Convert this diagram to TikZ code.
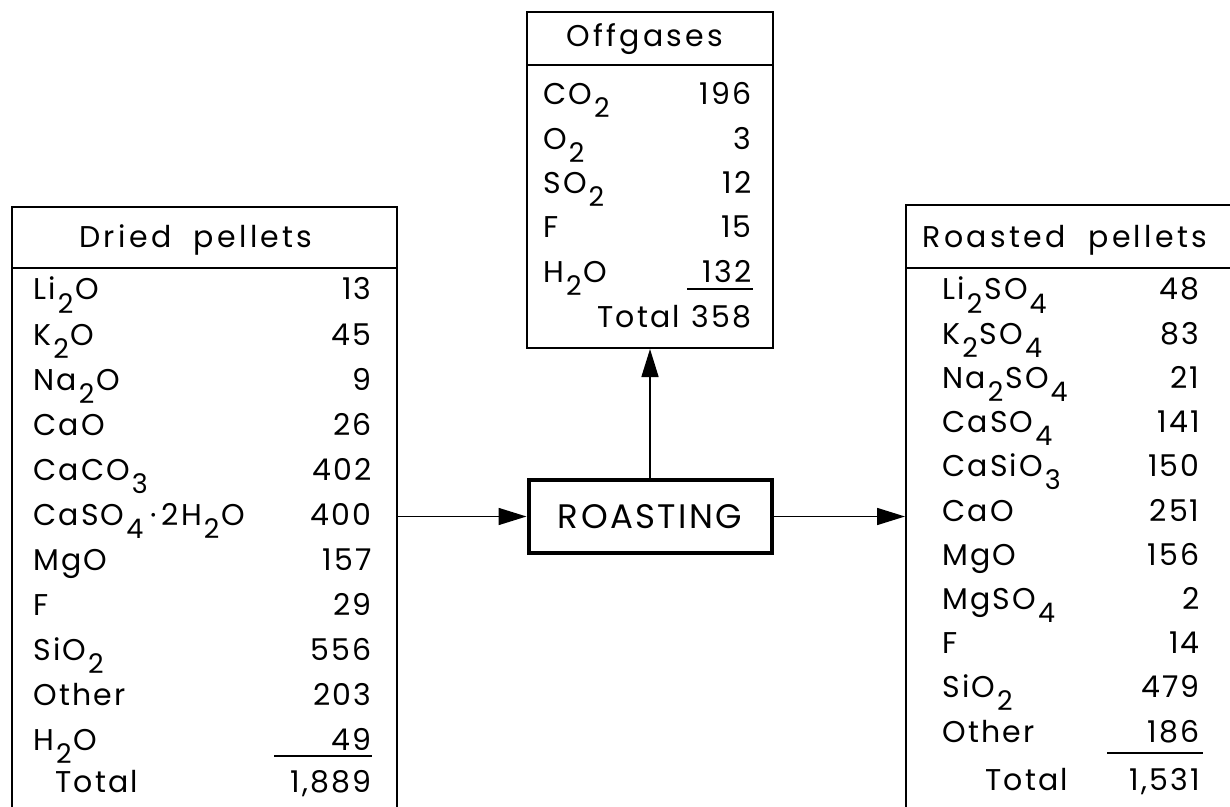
\documentclass[tikz,border=0pt]{standalone}
\usepackage{fontspec}
\setmainfont{Poppins}[LetterSpace=7]
\newfontfamily\headfont{Poppins}[LetterSpace=11]
\usetikzlibrary{arrows.meta,fit}
\newcommand\sbs[1]{\kern1pt\raisebox{-6.5pt}{\fontsize{13.5}{13.5}\selectfont #1}\kern1pt}
\begin{document}
\begin{tikzpicture}[x=0.5pt,y=-0.5pt,
  tbl/.style={draw,line width=1pt,inner sep=0pt},
  lab/.style={anchor=base west,inner sep=0pt,font=\fontsize{15}{15}\selectfont},
  val/.style={anchor=base east,inner sep=0pt,font=\fontsize{15}{15}\selectfont},
  head/.style={anchor=base,inner sep=0pt,font=\headfont\fontsize{15}{15}\selectfont},
  proc/.style={draw,line width=2pt,minimum width=121.5pt,minimum height=36.5pt,inner sep=0pt,font=\fontsize{17}{17}\selectfont},
  arr/.style={line width=0.8pt,-{Triangle[length=14pt,width=8.5pt]}},
  sumrule/.style={line width=0.9pt}]
\useasboundingbox (0,0) rectangle (1230,807);
\clip (0,0) rectangle (1230,807);
% boxes
\node[tbl,fit={(12,207)(397,840)}] (dried) {};
\node[tbl,fit={(527,12)(773,348)}] (offgas) {};
\node[tbl,fit={(906,205)(1290,840)}] (roasted) {};
\draw[line width=1pt] (dried.west |- 0,268) coordinate (dh1) -- (dried.east |- 0,268) coordinate (dh2);
\draw[line width=1pt] (offgas.west |- 0,65) coordinate (oh1) -- (offgas.east |- 0,65) coordinate (oh2);
\draw[line width=1pt] (roasted.west |- 0,268) coordinate (rh1) -- (roasted.east |- 0,268) coordinate (rh2);
% headers
\node[head] (dhead) at (196,248) {Dried\ \ pellets};
\node[head] (ohead) at (645,47) {Offgases};
\node[head] (rhead) at (1065,248) {Roasted\ \ pellets};
% process
\node[proc] (roast) at (650,516.5) {ROASTING};
% left rows
\foreach \lab/\val [count=\i from 0] in {{Li\sbs{2}O}/13,{K\sbs{2}O}/45,{Na\sbs{2}O}/9,{CaO}/26,{CaCO\sbs{3}}/402,{CaSO\sbs{4}\hspace{2.5pt}·\hspace{2.5pt}2H\sbs{2}O}/400,{MgO}/157,{F}/29,{SiO\sbs{2}}/556,{Other}/203,{H\sbs{2}O}/49}{
  \node[lab] (dl\i) at (33,{300+45*\i}) {\lab};
  \node[val] (dv\i) at (372,{300+45*\i}) {\val};
}
\draw[sumrule] (274,756) coordinate (dr1) -- (372,756) coordinate (dr2);
\node[lab] (dtl) at (55,792) {Total};
\node[val] (dtv) at (372,792) {1,889};
% offgas rows
\foreach \lab/\val [count=\i from 0] in {{CO\sbs{2}}/196,{O\sbs{2}}/3,{SO\sbs{2}}/12,{F}/15,{H\sbs{2}O}/132}{
  \node[lab] (ol\i) at (543,{105+44.3*\i}) {\lab};
  \node[val] (ov\i) at (752,{105+44.3*\i}) {\val};
}
\draw[sumrule] (687,289) coordinate (or1) -- (753,289) coordinate (or2);
\node[lab] (otl) at (597,328) {Total};
\node[val] (otv) at (752,328) {358};
% roasted rows
\foreach \lab/\val [count=\i from 0] in {{Li\sbs{2}SO\sbs{4}}/48,{K\sbs{2}SO\sbs{4}}/83,{Na\sbs{2}SO\sbs{4}}/21,{CaSO\sbs{4}}/141,{CaSiO\sbs{3}}/150,{CaO}/251,{MgO}/156,{MgSO\sbs{4}}/2,{F}/14,{SiO\sbs{2}}/479,{Other}/186}{
  \node[lab] (rl\i) at (942,{300+44.2*\i}) {\lab};
  \node[val] (rv\i) at (1200,{300+44.2*\i}) {\val};
}
\draw[sumrule] (1107,753) coordinate (rr1) -- (1203,753) coordinate (rr2);
\node[lab] (rtl) at (985,790) {Total};
\node[val] (rtv) at (1200,790) {1,531};
% connectors
\draw[arr] (dried.east |- roast.west) -- (roast.west);
\draw[arr] (roast.east) -- (roast.east -| roasted.west);
\draw[arr] (roast.north) -- (offgas.south);
\end{tikzpicture}
\end{document}
